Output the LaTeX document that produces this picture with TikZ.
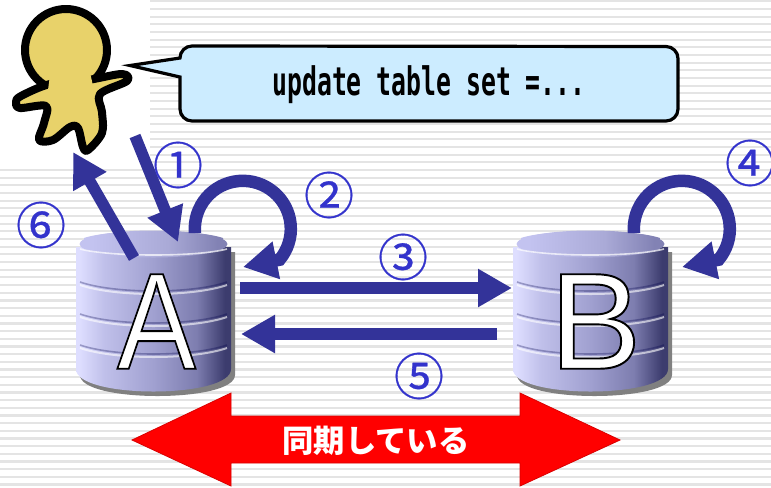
\documentclass[tikz,border=0pt]{standalone}
\usepackage{fontspec}
\usetikzlibrary{arrows.meta}
\setmainfont{Liberation Sans}
\newfontfamily\outlinefont[FakeBold=1.4]{Liberation Sans}
\newfontfamily\monofont{DejaVu Sans Mono}
\newfontfamily\jpfont{Noto Sans CJK JP}
\newfontfamily\circfont[FakeBold=.6]{Noto Sans CJK JP}
\definecolor{flow}{HTML}{333399}
\definecolor{numc}{HTML}{3333CC}
\definecolor{skin}{HTML}{E8D26A}
\definecolor{bubble}{HTML}{CCECFF}
\definecolor{rule}{HTML}{E4E4E4}
\definecolor{sideA}{HTML}{DEDEFF}
\definecolor{sideE}{HTML}{C0C0EA}
\definecolor{sideB}{HTML}{A0A0D0}
\definecolor{sideC}{HTML}{7D7DAF}
\definecolor{sideD}{HTML}{3C3C6E}
\definecolor{topA}{HTML}{C3C3F0}
\definecolor{topB}{HTML}{AAAAD7}
\definecolor{topC}{HTML}{8282B4}
\pgfdeclarehorizontalshading{drumside}{100bp}{
  color(0bp)=(sideA);
  color(26bp)=(sideA);
  color(34bp)=(sideE);
  color(50bp)=(sideB);
  color(64bp)=(sideC);
  color(73bp)=(sideD);
  color(100bp)=(sideD)}
\pgfdeclarehorizontalshading{drumtop}{100bp}{
  color(0bp)=(topA);
  color(28bp)=(topA);
  color(55bp)=(topB);
  color(73bp)=(topC);
  color(100bp)=(topC)}
\tikzset{
  x=0.75pt,y=-0.75pt,
  flowline/.style={draw=flow,line width=11.5pt*0.75,-{Triangle[length=34*0.75pt,width=36*0.75pt]}},
  loopline/.style={flowline,line width=12.5pt*0.75},
  numlabel/.style={text=numc,font=\circfont\fontsize{37.5}{38}\selectfont,inner sep=0pt},
  drumletter/.style={inner sep=0pt,font=\outlinefont\fontsize{103}{103}\selectfont},
  ringlight/.style={draw=white,opacity=.6,line width=1.5pt},
  ringdark/.style={draw=black!70!blue,opacity=.3,line width=1.2pt},
  inkline/.style={draw=black,line width=6pt,line join=round,fill=skin},
}
% A stack of discs: #1 is the horizontal offset of the left edge
\newcommand{\drum}[1]{%
  \begin{scope}[xshift=#1*0.75pt]
    \fill[black!50] (80,252) -- (235,252) -- (235,375) .. controls (235,403) and (80,403) .. (80,375) -- cycle;
    \path[shading=drumside] (76,247) -- (231,247) -- (231,369) .. controls (231,399) and (76,399) .. (76,369) -- cycle;
    \foreach \y in {283,315,346}{
      \draw[ringdark] (80,\y-1) .. controls (115,\y+11) and (192,\y+11) .. (227,\y-1);
      \draw[ringlight] (80,\y+2) .. controls (115,\y+14) and (192,\y+14) .. (227,\y+2);
    }
    \path[shading=drumtop] (153.5,244) ellipse [x radius=74,y radius=13.5];
    \path[shading=drumtop] (84,238) .. controls (110,229) and (197,229) .. (223,238) -- (223,250) -- (84,250) -- cycle;
    \draw[white,opacity=.7,line width=1.2pt] (80,249) .. controls (110,257) and (197,257) .. (227,249);
  \end{scope}}
\begin{document}
\begin{tikzpicture}
\useasboundingbox (0,0) rectangle (771,487);
\fill[white] (0,0) rectangle (771,487);
% ruled background, with a clear corner behind the figure
\foreach \k in {0,...,63}{
  \pgfmathsetmacro{\yy}{1.3+7.67*\k}
  \ifdim\yy pt<168pt
    \draw[rule,line width=1.6pt] (150,\yy) -- (771,\yy);
  \else
    \draw[rule,line width=1.6pt] (0,\yy) -- (771,\yy);
  \fi
}

% the user
\draw[inkline] (66,50) circle [radius=41];
\draw[inkline] plot[smooth cycle,tension=.55] coordinates {
  (50,84) (88,80) (122,74) (127,81) (100,94) (102,112) (102,133) (88,150)
  (83,147) (78,128) (70,127) (53,140) (39,140) (44,123) (46,106) (20,108)
  (16,102) (21,96)};
\fill[skin] (50,75) -- (90,72) -- (93,86) -- (48,90) -- cycle;

% speech bubble
\draw[fill=bubble,draw=black,line width=2.4pt,line join=miter]
  (180,58) arc[start angle=180,end angle=270,radius=12] -- (666,46.5)
  arc[start angle=270,end angle=360,radius=12] -- (678,109)
  arc[start angle=0,end angle=90,radius=12] -- (192,121)
  arc[start angle=90,end angle=180,radius=12] -- (180,77) -- (130,65.5) -- cycle;
\node[inner sep=0pt,xscale=.63,font=\monofont\bfseries\fontsize{29.5}{30}\selectfont] (sql) at (429,85) {update table set =...};

% the two servers
\drum{0}
\drum{437}
\node[drumletter,xscale=.86] (lettera) at (156.5,321.5) {\special{pdf:bcolor [1 1 1] [0 0 0]}A\special{pdf:ecolor}};
\node[drumletter] (letterb) at (595.5,321.5) {\special{pdf:bcolor [1 1 1] [0 0 0]}B\special{pdf:ecolor}};

% anchor points of the numbered steps
\coordinate (userout) at (135,136);
\coordinate (atop) at (178,242);
\coordinate (aback) at (134,258);
\coordinate (userin) at (73,152);
\coordinate (aloop) at (195,233);
\coordinate (aloopin) at (243,267);
\coordinate (aright) at (240,288);
\coordinate (bleft) at (512,288);
\coordinate (bback) at (497,334);
\coordinate (areturn) at (241,334);
\coordinate (bloop) at (634,233);
\coordinate (bloopin) at (682,267);

\draw[flowline] (userout) -- (atop);
\draw[flowline] (aback) -- (userin);
\draw[flowline] (aright) -- (bleft);
\draw[flowline] (bback) -- (areturn);
\draw[loopline] (aloop) arc[start angle=175,end angle=400,radius=48] -- (aloopin);
\draw[loopline] (bloop) arc[start angle=175,end angle=400,radius=48] -- (bloopin);

\node[numlabel] (n1) at (178,165) {①};
\node[numlabel] (n2) at (329,195) {②};
\node[numlabel] (n3) at (403,257) {③};
\node[numlabel] (n4) at (750,163) {④};
\node[numlabel] (n5) at (419,376) {⑤};
\node[numlabel] (n6) at (41,225) {⑥};

% synchronisation banner
\draw[fill=red,draw=red!85!black,line width=.6pt,line join=miter]
  (132,440) -- (231,393) -- (231,416) -- (520,416) -- (520,393) -- (620,440)
  -- (520,486) -- (520,463) -- (231,463) -- (231,486) -- cycle;
\node[inner sep=0pt,text=white,font=\jpfont\bfseries\fontsize{23.5}{24}\selectfont] (sync) at (376,441) {同期している};
\end{tikzpicture}
\end{document}
